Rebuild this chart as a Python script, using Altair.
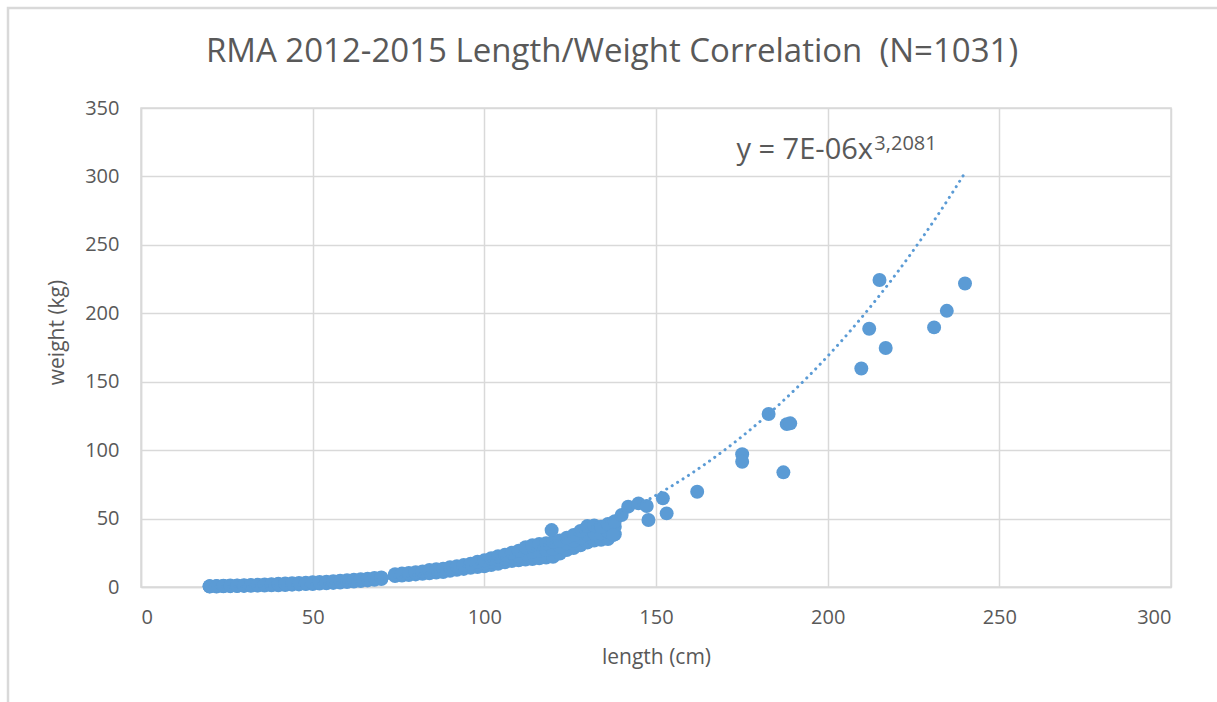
import altair as alt
import pandas as pd

# ---- data ----
# dense part of the cloud: length (cm) with lower / middle / upper weight (kg) of the band
band_len = [20, 22, 24, 26, 28, 30, 32, 34, 36, 38, 40, 42, 44, 46, 48, 50, 52, 54, 56, 58,
            60, 62, 64, 66, 68, 70,
            74, 76, 78, 80, 82, 84, 86, 88, 90, 92, 94, 96, 98, 100, 102, 104, 106, 108,
            110, 112, 114, 116, 118, 120, 122, 124, 126, 128, 130, 132, 134, 136, 138]
band_lo = [0.3, 0.4, 0.5, 0.6, 0.7, 0.8, 0.9, 1.0, 1.1, 1.2, 1.3, 1.5, 1.7, 1.9, 2.1, 2.2, 2.5, 2.7, 3.0, 3.3,
           3.6, 4.0, 4.4, 4.8, 5.3, 5.8,
           8.0, 8.4, 8.8, 9.2, 9.6, 10.0, 10.5, 11.0, 11.8, 12.5, 13.2, 14.0, 14.6, 15.2, 16.0, 17.0, 18.0, 19.0,
           19.5, 20.0, 20.5, 21.0, 21.5, 22.0, 24.5, 27.0, 28.5, 30.5, 32.5, 34.0, 34.5, 35.0, 38.5]
band_mid = [0.5, 0.6, 0.7, 0.8, 0.9, 1.0, 1.2, 1.3, 1.5, 1.6, 1.8, 2.0, 2.2, 2.4, 2.6, 2.8, 3.0, 3.2, 3.6, 4.0,
            4.3, 4.6, 5.0, 5.4, 6.0, 6.4,
            8.6, 9.1, 9.5, 10.0, 10.5, 11.2, 11.7, 12.1, 13.1, 13.8, 14.6, 15.5, 16.5, 17.3, 18.5, 19.7, 20.7, 22.0,
            23.0, 24.5, 25.7, 26.5, 27.0, 27.7, 29.5, 32.0, 33.7, 36.0, 38.7, 39.5, 39.2, 40.5, 44.0]
band_hi = [0.6, 0.8, 1.0, 1.1, 1.2, 1.3, 1.5, 1.7, 1.9, 2.1, 2.3, 2.5, 2.7, 3.0, 3.2, 3.4, 3.6, 3.8, 4.2, 4.6,
           5.0, 5.3, 5.7, 6.1, 6.6, 7.0,
           9.3, 9.8, 10.3, 10.8, 11.4, 12.5, 13.0, 13.3, 14.5, 15.2, 16.0, 17.0, 18.5, 19.5, 21.0, 22.5, 23.5, 25.0,
           26.5, 29.0, 30.5, 31.5, 32.0, 33.0, 34.0, 36.0, 38.0, 41.0, 44.5, 45.0, 44.0, 46.0, 48.0]

# single, separately visible fish
solo_len = [119.6, 137.5, 140.0, 141.9, 144.9, 147.3, 147.8, 152.0, 153.1, 162.0, 175.1, 175.1,
            182.8, 187.1, 188.1, 189.1, 209.8, 212.1, 215.1, 216.9, 231.0, 234.7, 240.0]
solo_wt = [41.6, 38.0, 52.6, 58.7, 61.1, 59.2, 49.0, 64.8, 53.8, 69.6, 97.0, 91.5,
           126.4, 83.8, 119.0, 119.6, 159.7, 188.7, 224.3, 174.6, 189.7, 201.8, 221.8]

# power trendline printed on the chart: y = 7E-06 * x^3,2081 (drawn from min to max length)
trend_a = 7e-06
trend_b = 3.2081
trend_from, trend_to = 20, 240

x_ticks = [0, 50, 100, 150, 200, 250, 300]
y_ticks = [0, 50, 100, 150, 200, 250, 300, 350]

TITLE = "RMA 2012-2015 Length/Weight Correlation \u00a0(N=1031)"

# ---- build tables ----
pts = pd.DataFrame({
    "length": band_len * 3 + solo_len,
    "weight": band_lo + band_mid + band_hi + solo_wt,
})

BLUE = "#5B9BD5"
GREY_TXT = "#595959"
GRID = "#D9D9D9"
FONT = "Open Sans"

xs = alt.X("length:Q", scale=alt.Scale(domain=[0, 300], nice=False),
           axis=alt.Axis(values=x_ticks, title="length (cm)"))
ys = alt.Y("weight:Q", scale=alt.Scale(domain=[0, 350], nice=False),
           axis=alt.Axis(values=y_ticks, title="weight (kg)",
                         titleX=-84, titleY=224, titleBaseline="middle", titleAngle=-90))

points = alt.Chart(pts).mark_circle(size=195, color=BLUE, opacity=1).encode(x=xs, y=ys)

trend = (
    alt.Chart(alt.sequence(trend_from, trend_to + 0.5, 1, as_="length"))
    .transform_calculate(weight=f"{trend_a} * pow(datum.length, {trend_b})")
    .mark_line(color=BLUE, strokeWidth=3, strokeDash=[0.1, 6.3], strokeCap="round")
    .encode(x="length:Q", y="weight:Q")
)

eq_main = alt.Chart(pd.DataFrame({"t": ["y = 7E-06x"]})).mark_text(
    align="right", baseline="alphabetic", font=FONT, fontSize=29, color=GREY_TXT
).encode(x=alt.datum(213.2), y=alt.datum(312.6), text="t:N")

eq_sup = alt.Chart(pd.DataFrame({"t": ["3,2081"]})).mark_text(
    align="left", baseline="alphabetic", font=FONT, fontSize=20, color=GREY_TXT
).encode(x=alt.datum(213.6), y=alt.datum(319.5), text="t:N")

frame = alt.Chart(pd.DataFrame({"k": [0]})).mark_rect(
    filled=False, stroke=GRID, strokeWidth=2.5
).encode(x=alt.value(-133), x2=alt.value(1090), y=alt.value(-100), y2=alt.value(610))

chart = (
    alt.layer(frame, points, trend, eq_main, eq_sup)
    .properties(
        width=1030, height=479,
        background="white",
        autosize=alt.AutoSizeParams(type="none"),
        padding={"left": 141, "top": 108, "right": 46, "bottom": 115},
        title=alt.TitleParams(TITLE, font=FONT, fontSize=33, fontWeight="normal",
                              color=GREY_TXT, anchor="middle", dx=-44, offset=-88,
                              baseline="alphabetic"),
    )
    .configure_view(stroke=GRID, strokeWidth=1.5)
    .configure_axis(
        grid=True, gridColor=GRID, gridWidth=1.5,
        domain=True, domainColor=GRID, domainWidth=1.5,
        ticks=False, labelFont=FONT, labelFontSize=20, labelColor=GREY_TXT,
        titleFont=FONT, titleFontSize=21, titleFontWeight="normal", titleColor=GREY_TXT,
    )
    .configure_axisX(labelPadding=20, titlePadding=19)
    .configure_axisY(labelPadding=22)
)

chart.save("out.html", embed_options={"renderer": "svg", "actions": False})
